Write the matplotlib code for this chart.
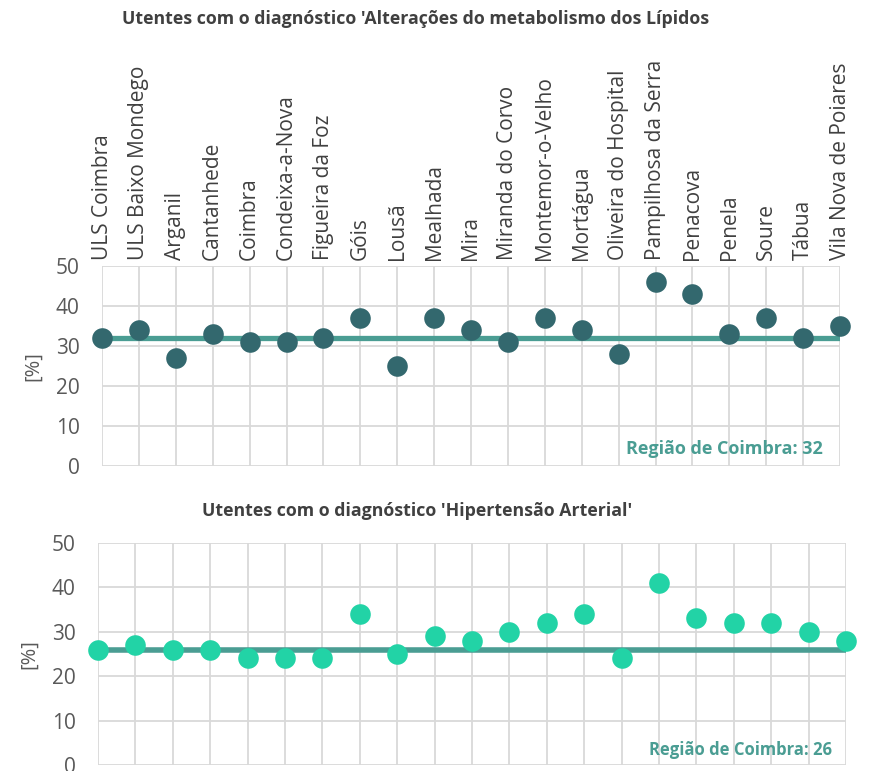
import matplotlib

matplotlib.use("Agg")
import matplotlib.pyplot as plt

plt.rcParams["font.family"] = ["Open Sans", "DejaVu Sans"]

LOCAIS = ["ULS Coimbra", "ULS Baixo Mondego", "Arganil", "Cantanhede", "Coimbra",
          "Condeixa-a-Nova", "Figueira da Foz", "Góis", "Lousã", "Mealhada", "Mira",
          "Miranda do Corvo", "Montemor-o-Velho", "Mortágua", "Oliveira do Hospital",
          "Pampilhosa da Serra", "Penacova", "Penela", "Soure", "Tábua",
          "Vila Nova de Poiares"]
LIPIDOS = [32, 34, 27, 33, 31, 31, 32, 37, 25, 37, 34, 31, 37, 34, 28, 46, 43, 33, 37, 32, 35]
HTA = [26, 27, 26, 26, 24, 24, 24, 34, 25, 29, 28, 30, 32, 34, 24, 41, 33, 32, 32, 30, 28]
REGIAO_LIPIDOS = 32
REGIAO_HTA = 26

TITLE_TOP = "Utentes com o diagnóstico 'Alterações do metabolismo dos Lípidos"
TITLE_BOT = "Utentes com o diagnóstico 'Hipertensão Arterial'"

W, H = 869, 771
GRID = "#d9d9d9"
LINE = "#4a9d93"


def panel(ax, vals, ref, dot, show_labels, note_size, note_x, note_y, lw, ylab_x):
    x = list(range(len(LOCAIS)))
    ax.plot([x[0], x[-1]], [ref, ref], color=LINE, lw=lw, solid_capstyle="butt", zorder=2)
    ax.scatter(x, vals, s=220, color=dot, zorder=3, clip_on=False, linewidths=0)
    ax.set_xlim(0, len(LOCAIS) - 1)
    ax.set_ylim(0, 50)
    ax.set_yticks(range(0, 51, 10))
    ax.set_xticks(x)
    ax.grid(True, color=GRID, lw=1.3)
    ax.set_axisbelow(True)
    for s in ax.spines.values():
        s.set_visible(False)
    ax.tick_params(axis="both", length=0, labelsize=15, labelcolor="#595959")
    ax.tick_params(axis="y", pad=16)
    if show_labels:
        ax.xaxis.tick_top()
        ax.set_xticklabels(LOCAIS, rotation=90, fontsize=15, color="#404040")
        ax.tick_params(axis="x", pad=4)
    else:
        ax.set_xticklabels([])
    ax.text(ylab_x, 0.5, "[%]", transform=ax.transAxes, rotation=90,
            ha="center", va="center", fontsize=14.5, color="#595959")
    ax.text(note_x, note_y, f"Região de Coimbra: {ref}", transform=ax.transAxes,
            ha="right", va="center", fontsize=note_size, fontweight="bold", color=LINE)


fig = plt.figure(figsize=(W / 100, H / 100), dpi=100)
ax1 = fig.add_axes([102 / W, 1 - 466 / H, (840 - 102) / W, (466 - 266) / H])
ax2 = fig.add_axes([98 / W, 1 - 765 / H, (846 - 98) / W, (765 - 543) / H])

panel(ax1, LIPIDOS, REGIAO_LIPIDOS, "#33686e", True, 13,
      (823 - 102) / 738, (466 - 449) / 200, 3.8, (33 - 102) / 738)
panel(ax2, HTA, REGIAO_HTA, "#22d3a6", False, 12,
      (832 - 98) / 748, (765 - 750) / 222, 4.0, (29 - 98) / 748)

fig.text(416 / W, 1 - 19 / H, TITLE_TOP, ha="center", va="center",
         fontsize=12.8, fontweight="bold", color="#404040")
fig.text(417 / W, 1 - 511 / H, TITLE_BOT, ha="center", va="center",
         fontsize=12.8, fontweight="bold", color="#404040")

fig.savefig("out.png", dpi=100)
